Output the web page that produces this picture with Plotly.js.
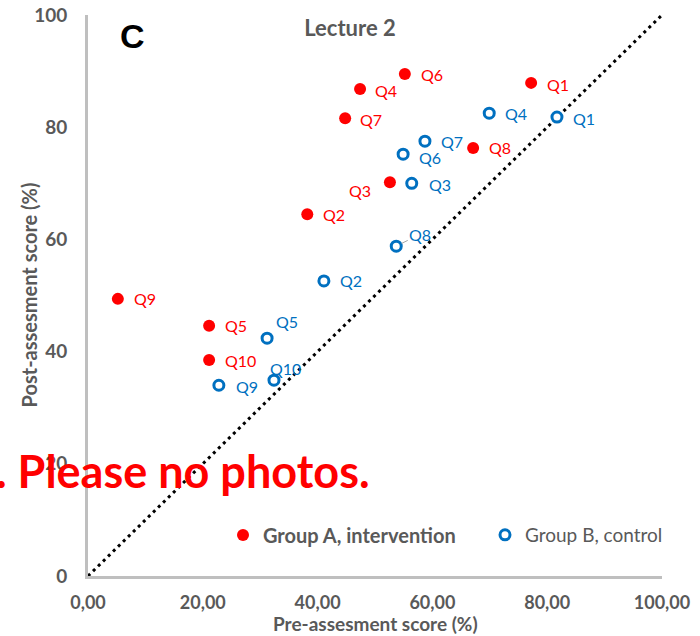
<!DOCTYPE html>
<html><head><meta charset="utf-8">
<script src="https://cdn.plot.ly/plotly-3.0.1.min.js"></script>
<style>html,body{margin:0;padding:0;background:#fff}#chart{width:700px;height:636px}</style>
</head><body><div id="chart"></div>
<script>
// ---- data ----
const questions = ['Q1','Q2','Q3','Q4','Q5','Q6','Q7','Q8','Q9','Q10'];
const groupA_pre  = [77.2, 38.2, 52.6, 47.4, 21.1, 55.2, 44.8, 67.1, 5.2, 21.1];
const groupA_post = [87.9, 64.5, 70.2, 86.8, 44.6, 89.5, 81.6, 76.3, 49.4, 38.5];
const groupB_pre  = [81.7, 41.1, 56.4, 69.9, 31.2, 54.9, 58.7, 53.7, 22.8, 32.4];
const groupB_post = [81.8, 52.6, 70.0, 82.5, 42.4, 75.2, 77.5, 58.8, 34.0, 34.9];
const xTicks = [0, 20, 40, 60, 80, 100];
const yTicks = [0, 20, 40, 60, 80, 100];
const identityLine = [0, 100];
const seriesNames = ['<b>Group A, intervention</b>', 'Group B, control'];

// ---- styles ----
const RED = '#ff0000', BLUE = '#0070c0', GRAY = '#595959';
const FONT = 'Lato, "Open Sans", sans-serif';
// label offsets in pixels: [dx, dy (down +), anchor]
const offA = [[14,2,'left'],[14,0,'left'],[-17,8,'right'],[13,1,'left'],[14,0,'left'],[14,1,'left'],[13,1,'left'],[14,0,'left'],[14,0,'left'],[14,0,'left']];
const offB = [[14,1,'left'],[14,0,'left'],[15,1,'left'],[14,0,'left'],[7,-17,'left'],[14,3,'left'],[14,0,'left'],[13,-12,'arrow'],[15,1,'left'],[-6,-12,'left']];

const traces = [
  {x: identityLine, y: identityLine, mode: 'lines', showlegend: false,
   line: {color: '#000', width: 3, dash: '3px,4px'}, hoverinfo: 'skip'},
  {x: groupA_pre, y: groupA_post, mode: 'markers', name: seriesNames[0], legend: 'legend',
   marker: {color: RED, size: 12, symbol: 'circle'}},
  {x: groupB_pre, y: groupB_post, mode: 'markers', name: seriesNames[1], legend: 'legend2',
   marker: {color: '#fff', size: 10, symbol: 'circle', line: {color: BLUE, width: 3}}}
];

const annotations = [];
function addLabels(xs, ys, offs, color) {
  xs.forEach((xv, i) => {
    const o = offs[i];
    if (o[2] === 'arrow') {
      annotations.push({x: xv, y: ys[i], xref: 'x', yref: 'y', text: questions[i],
        showarrow: true, arrowhead: 0, arrowwidth: 1, arrowcolor: '#a6a6a6',
        ax: 24, ay: -12, standoff: 6, font: {family: FONT, size: 16, color: color}});
    } else {
      annotations.push({x: xv, y: ys[i], xref: 'x', yref: 'y', text: questions[i],
        showarrow: false, xanchor: o[2], yanchor: 'middle', xshift: o[0], yshift: -o[1],
        font: {family: FONT, size: 16, color: color}});
    }
  });
}
addLabels(groupA_pre, groupA_post, offA, RED);
addLabels(groupB_pre, groupB_post, offB, BLUE);

annotations.push({xref: 'paper', yref: 'paper', x: (132-88)/574, y: (576-36)/561,
  text: '<b>C</b>', showarrow: false, xanchor: 'center', yanchor: 'middle',
  font: {family: '"Liberation Sans", Arial, sans-serif', size: 34, color: '#000', weight: 'bold'}});
annotations.push({xref: 'paper', yref: 'paper', x: (372-88)/574, y: (576-471)/561,
  text: '. Please no photos.', showarrow: false, xanchor: 'right', yanchor: 'middle',
  font: {family: FONT, size: 45, color: RED, weight: 'bold'}});
// axis titles
annotations.push({xref: 'paper', yref: 'paper', x: 0.5, y: (576-623)/561,
  text: 'Pre-assesment score (%)', showarrow: false, xanchor: 'center', yanchor: 'middle',
  font: {family: FONT, size: 19, color: GRAY, weight: 'bold'}});
annotations.push({xref: 'paper', yref: 'paper', x: (28-88)/574, y: 0.5, textangle: -90,
  text: 'Post-assesment score (%)', showarrow: false, xanchor: 'center', yanchor: 'middle',
  font: {family: FONT, size: 20, color: GRAY, weight: 'bold'}});

const layout = {
  width: 700, height: 636,
  margin: {l: 88, r: 38, t: 15, b: 60},
  paper_bgcolor: '#fff', plot_bgcolor: '#fff',
  separators: ', ',
  title: {text: 'Lecture 2', x: (350-88)/574, xref: 'paper', y: 1 - 28/636, yref: 'container',
    xanchor: 'center', yanchor: 'middle', font: {family: FONT, size: 22, color: GRAY, weight: 'bold'}},
  xaxis: {range: [0, 100], tickvals: xTicks, tickformat: '.2f', showgrid: false, zeroline: false,
    showline: true, linecolor: '#bfbfbf', linewidth: 3, ticks: '', ticklabelstandoff: 8,
    tickfont: {family: FONT, size: 18, color: GRAY, weight: 'bold'}},
  yaxis: {range: [0, 100], tickvals: yTicks, tickformat: 'd', showgrid: false, zeroline: false,
    showline: true, linecolor: '#bfbfbf', linewidth: 3, ticks: '', ticklabelstandoff: 14,
    tickfont: {family: FONT, size: 19, color: GRAY, weight: 'bold'}},
  legend: {orientation: 'h', x: (223-88)/574, y: (576-535)/561, xanchor: 'left', yanchor: 'middle',
    font: {family: FONT, size: 20, color: GRAY}, bgcolor: 'rgba(0,0,0,0)'},
  legend2: {orientation: 'h', x: (485-88)/574, y: (576-535)/561, xanchor: 'left', yanchor: 'middle',
    font: {family: FONT, size: 19, color: GRAY}, bgcolor: 'rgba(0,0,0,0)'},
  annotations: annotations
};

Plotly.newPlot('chart', traces, layout, {staticPlot: true, displayModeBar: false});
</script>
</body></html>
